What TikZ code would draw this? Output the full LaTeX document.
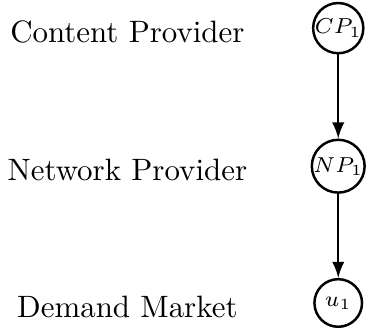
\documentclass[tikz,border=0pt]{standalone}
\usepackage{amssymb}
\usepackage{tikz}
\usetikzlibrary{matrix,arrows}

\begin{document}
\begin{tikzpicture}[
	agent/.style={circle, draw, thick, minimum size=15.4pt, inner sep=0pt, font=\scriptsize},
	tier/.style={yshift=-1.2pt}
]
\matrix (m) [matrix of nodes, row sep=27.2pt, column sep=17.2pt, nodes={anchor=center},
	column 1/.style={nodes=tier}, column 2/.style={nodes=agent}]
{
	Content Provider & $CP_1$ \\
	Network Provider & $NP_1$ \\
	Demand Market    & $u_1$  \\
};
\path[-latex, thick]
(m-1-2) edge (m-2-2)
(m-2-2) edge (m-3-2)
;
\pgfresetboundingbox
\useasboundingbox ([xshift=-109.4pt,yshift=9.1pt]m-1-2.center) rectangle ([xshift=9.3pt,yshift=-8pt]m-3-2.center);
\end{tikzpicture}
\end{document}
